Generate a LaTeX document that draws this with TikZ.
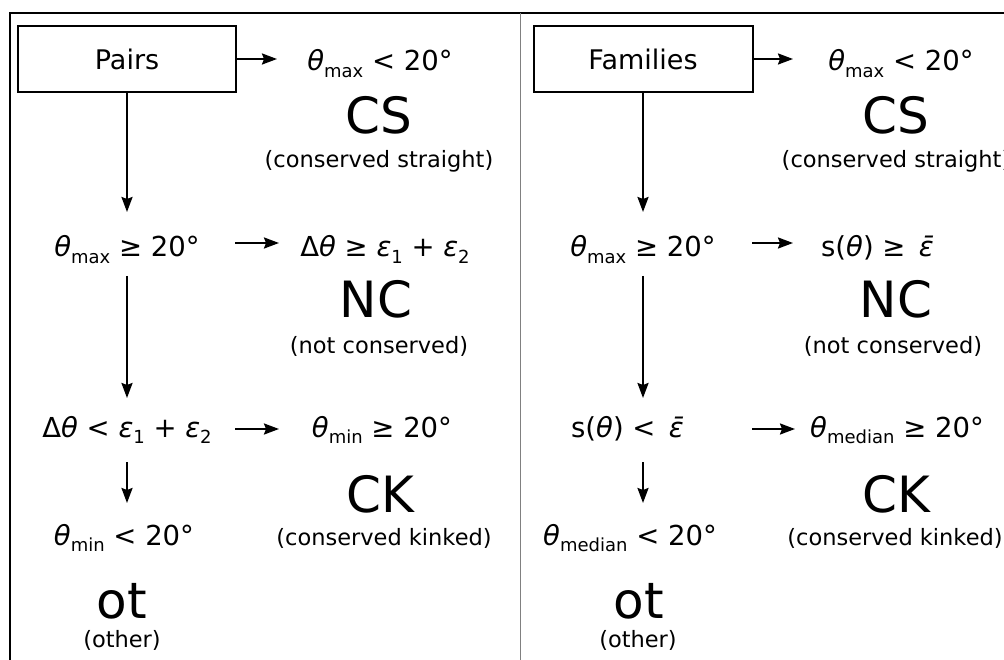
\documentclass[tikz,border=0pt]{standalone}
\usepackage{fontspec}
\setmainfont{DejaVu Sans}
\usetikzlibrary{arrows.meta}
\newcommand\tht{\textit{θ}}
\newcommand\eps{\textit{ε}}
\newcommand\epsbar{\textit{ε̄}}
\newcommand\subx[1]{\raisebox{-0.22em}{\fontsize{18}{18}\selectfont #1}}
\begin{document}
\begin{tikzpicture}[x=1pt,y=-1pt,
  cond/.style={inner sep=0pt, font=\fontsize{27.5}{32}\selectfont, anchor=base},
  big/.style={inner sep=0pt, font=\fontsize{50}{58}\selectfont, anchor=base},
  note/.style={inner sep=0pt, font=\fontsize{22.5}{27}\selectfont, anchor=base},
  hdr/.style={draw, line width=2pt, minimum width=218pt, minimum height=66pt, inner sep=0pt, font=\fontsize{27}{32}\selectfont},
  arr/.style={line width=2.2pt, -{Stealth[length=15pt,width=11pt,inset=2pt]}},
]
\useasboundingbox (0,0) rectangle (1004,660);

% frame and divider
\draw[line width=2.5pt] (10,660) -- (10,13) -- (1004,13);
\draw[gray, line width=1pt] (520,13) -- (520,660);

% ---- Pairs ----
\node[hdr] (pairs) at (127,59) {Pairs};
\node[cond] (p1) at (380,71) {\tht\subx{max} < 20°};
\node[big] (pcs) at (379,134) {CS};
\node[note] (pcsn) at (379,168) {(conserved straight)};
\node[cond] (p2) at (127,257) {\tht\subx{max} ≥ 20°};
\node[cond] (p2r) at (385,257) {Δ\tht{} ≥ \eps\subx{1} + \eps\subx{2}};
\node[big] (pnc) at (376,317) {NC};
\node[note] (pncn) at (379,353) {(not conserved)};
\node[cond] (p3) at (127,437) {Δ\tht{} < \eps\subx{1} + \eps\subx{2}};
\node[cond] (p3r) at (382,437) {\tht\subx{min} ≥ 20°};
\node[big] (pck) at (380,512) {CK};
\node[note] (pckn) at (384,545) {(conserved kinked)};
\node[cond] (p4) at (124,545) {\tht\subx{min} < 20°};
\node[big] (pot) at (122,618) {ot};
\node[note] (potn) at (122,647) {(other)};

\draw[arr] (pairs.east) -- ([xshift=-103pt,yshift=12pt]p1.base);
\draw[arr] (pairs.south) -- ([yshift=45pt]p2.base);
\draw[arr] ([xshift=108pt,yshift=14pt]p2.base) -- ([xshift=-106pt,yshift=14pt]p2r.base);
\draw[arr] ([yshift=-19pt]p2.base) -- ([yshift=39pt]p3.base);
\draw[arr] ([xshift=108pt,yshift=8pt]p3.base) -- ([xshift=-103pt,yshift=8pt]p3r.base);
\draw[arr] ([yshift=-25pt]p3.base) -- ([xshift=3pt,yshift=42pt]p4.base);

% ---- Families ----
\node[hdr, minimum width=219pt] (fam) at (643,59) {Families};
\node[cond] (f1) at (901,71) {\tht\subx{max} < 20°};
\node[big] (fcs) at (896,134) {CS};
\node[note] (fcsn) at (896,168) {(conserved straight)};
\node[cond] (f2) at (643,257) {\tht\subx{max} ≥ 20°};
\node[cond] (f2r) at (878,257) {s(\tht) ≥ \,\epsbar};
\node[big] (fnc) at (896,317) {NC};
\node[note] (fncn) at (893,353) {(not conserved)};
\node[cond] (f3) at (628,437) {s(\tht) < \,\epsbar};
\node[cond] (f3r) at (897,437) {\tht\subx{median} ≥ 20°};
\node[big] (fck) at (896,512) {CK};
\node[note] (fckn) at (895,545) {(conserved kinked)};
\node[cond] (f4) at (630,545) {\tht\subx{median} < 20°};
\node[big] (fot) at (639,618) {ot};
\node[note] (fotn) at (638,647) {(other)};

\draw[arr] (fam.east) -- ([xshift=-108pt,yshift=12pt]f1.base);
\draw[arr] (fam.south) -- ([yshift=45pt]f2.base);
\draw[arr] ([xshift=109pt,yshift=14pt]f2.base) -- ([xshift=-85pt,yshift=14pt]f2r.base);
\draw[arr] ([yshift=-19pt]f2.base) -- ([yshift=39pt]f2.base |- f3.base);
\draw[arr] ([xshift=124pt,yshift=8pt]f3.base) -- ([xshift=-102pt,yshift=8pt]f3r.base);
\draw[arr] ([xshift=15pt,yshift=-25pt]f3.base) -- ([xshift=13pt,yshift=42pt]f4.base);
\end{tikzpicture}
\end{document}
